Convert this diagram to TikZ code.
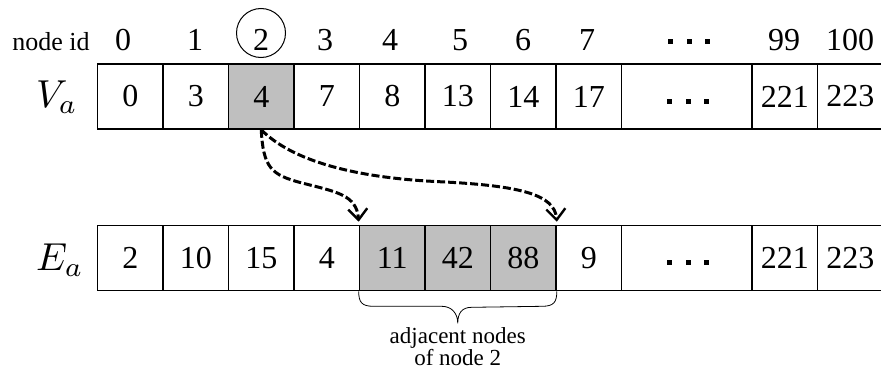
\documentclass[tikz,border=0pt]{standalone}
\usepackage{graphicx}
\usepackage{fontspec}
\setmainfont{Liberation Serif}
\newfontfamily\tnr{Liberation Serif}
\usetikzlibrary{arrows.meta,calc}
\begin{document}
\begin{tikzpicture}[x=1pt,y=-1pt,
  cell/.style={draw=black,line width=1.6pt,rectangle,inner sep=0pt,minimum width=65.5pt,minimum height=65pt,font=\tnr\fontsize{32}{36}\selectfont},
  wcell/.style={cell,minimum width=130.5pt},
  hl/.style={fill=black!25},
  idlab/.style={font=\tnr\fontsize{32}{36}\selectfont,anchor=base},
  rowlab/.style={inner sep=0pt},
  dash arrow/.style={line width=3pt,dash pattern=on 8pt off 3pt,-{Straight Barb[length=11pt,width=19pt,line width=2.4pt]}},
  dotsq/.style={inner sep=0pt}
]
\useasboundingbox (0,0) rectangle (881,372);
% node id labels
\node[font=\tnr\fontsize{26}{30}\selectfont,anchor=base] (nid) at (51,50) {node id};
\foreach \i/\x/\t in {0/123/0,1/195/1,2/261/2,3/325/3,4/390/4,5/460/5,6/523/6,7/587/7,99/784/99,100/850/100}
  \node[idlab] (id\i) at (\x,50) {\t};
\node[dotsq] (iddots) at (689,41) {\rule{5pt}{5pt}\hspace{13.5pt}\rule{5pt}{5pt}\hspace{13.5pt}\rule{5pt}{5pt}};
\draw[line width=1pt] (261,33) circle (24.5);
% Va row
\node[rowlab] (Va) at (57,97) {\scalebox{3.9}{$V_a$}};
\foreach \i/\x/\t in {0/130.25/0,1/195.75/3,3/326.75/7,4/392.25/8,5/457.75/13,6/523.25/14,7/588.75/17,9/784.75/221,10/850.25/223}
  \node[cell] (va\i) at (\x,96.5) {\t};
\node[cell,hl] (va2) at (261.25,96.5) {4};
\node[wcell] (va8) at (686.75,96.5) {};
\node[dotsq] (vadots) at (688,101) {\rule{5pt}{5pt}\hspace{13.5pt}\rule{5pt}{5pt}\hspace{13.5pt}\rule{5pt}{5pt}};
% Ea row
\node[rowlab] (Ea) at (60,260) {\scalebox{3.9}{$E_a$}};
\foreach \i/\x/\t in {0/130.25/2,1/195.75/10,2/261.25/15,3/326.75/4,7/588.75/9,9/784.75/221,10/850.25/223}
  \node[cell] (ea\i) at (\x,258) {\t};
\foreach \i/\x/\t in {4/392.25/11,5/457.75/42,6/523.25/88}
  \node[cell,hl] (ea\i) at (\x,258) {\t};
\node[wcell] (ea8) at (686.75,258) {};
\node[dotsq] (eadots) at (688,262) {\rule{5pt}{5pt}\hspace{13.5pt}\rule{5pt}{5pt}\hspace{13.5pt}\rule{5pt}{5pt}};
% arrows
\draw[dash arrow] (va2.south) .. controls ($(va2.south)+(2,38)$) and ($(va2.south)+(10,45)$) .. ($(va2.south)+(40,53)$)
   .. controls ($(va2.south)+(75,62)$) and ($(ea4.north west)+(-2,-30)$) .. ($(ea4.north west)+(0,-3)$);
\draw[dash arrow] (va2.south) .. controls ($(va2.south)+(30,30)$) and ($(va2.south)+(90,48)$) .. ($(va2.south)+(180,52)$)
   .. controls ($(va2.south)+(260,56)$) and ($(ea6.north east)+(-2,-30)$) .. ($(ea6.north east)+(0,-3)$);
% brace
\draw[line width=0.8pt] (ea4.south west) .. controls ++(0,11) and ++(-12,0) .. ++(15,15) coordinate (b1)
  -- ($(b1)+(68,0)$) .. controls ++(10,0) and ++(0,-10) .. ($(ea5.south)+(0,32)$) coordinate (tip)
  .. controls ++(0,-10) and ++(-10,0) .. ($(tip)+(14,-16)$) -- ($(ea6.south east)+(-15,15)$)
  .. controls ++(12,0) and ++(0,11) .. (ea6.south east);
\node[font=\tnr\fontsize{23}{22}\selectfont,align=center,anchor=north] (adj) at ($(tip)+(0,1)$) {adjacent nodes\\of node 2};
\end{tikzpicture}
\end{document}
